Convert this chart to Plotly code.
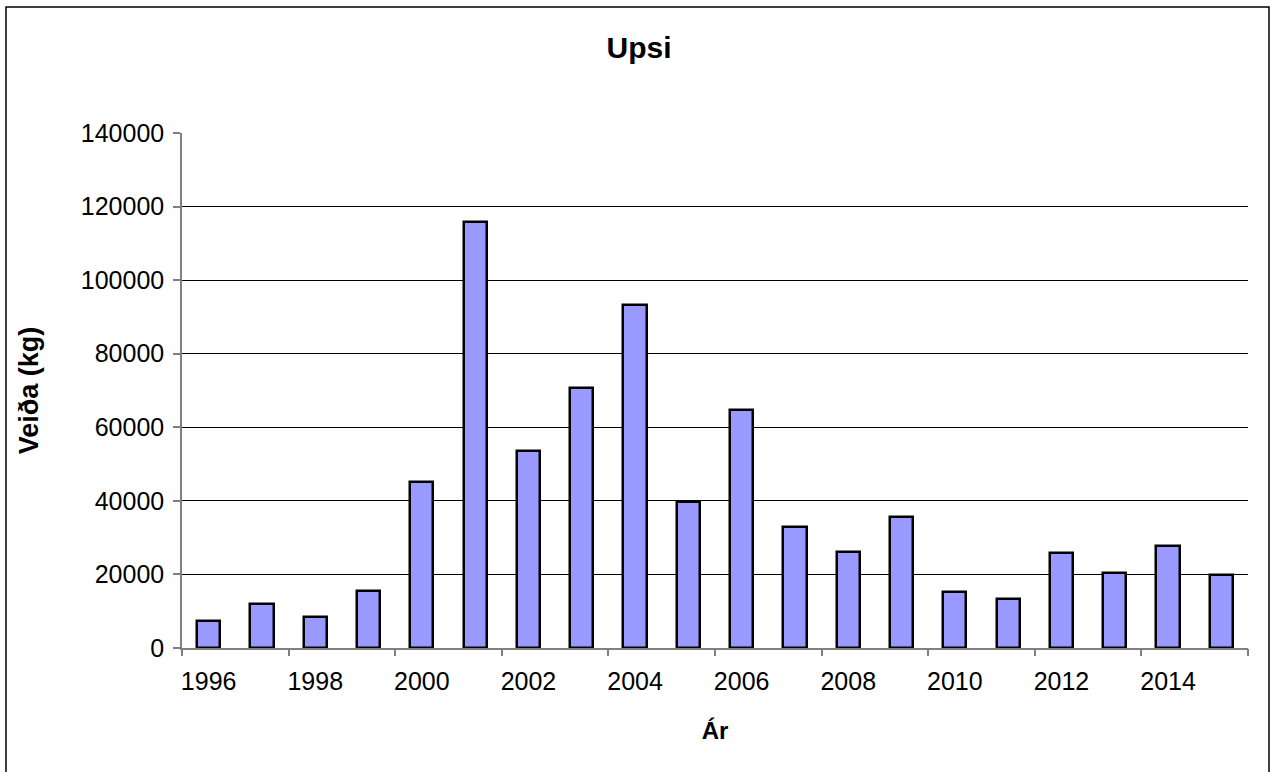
import plotly.graph_objects as go

years = list(range(1996, 2016))
catch_kg = [7300, 12000, 8400, 15500, 45100, 115800, 53500, 70700, 93200, 39700,
            64700, 32900, 26100, 35600, 15200, 13300, 25800, 20400, 27700, 19800]
label_years = [1996, 1998, 2000, 2002, 2004, 2006, 2008, 2010, 2012, 2014]
y_ticks = [0, 20000, 40000, 60000, 80000, 100000, 120000, 140000]

FONT = "Liberation Sans, Arial, sans-serif"

fig = go.Figure()
fig.add_trace(go.Bar(
    x=years, y=catch_kg, width=0.435,
    marker=dict(color="#9999FF", line=dict(color="#000000", width=2.5)),
    showlegend=False, hoverinfo="x+y",
))
# invisible trace to anchor the tick-mark axis
fig.add_trace(go.Scatter(x=[years[0]], y=[0], xaxis="x2", mode="markers",
                         marker=dict(opacity=0), showlegend=False, hoverinfo="skip"))

boundaries = [y - 0.5 for y in label_years] + [years[-1] + 0.5]

fig.update_layout(
    width=1278, height=772,
    margin=dict(l=182, r=30, t=133, b=124),
    paper_bgcolor="white", plot_bgcolor="white",
    font=dict(family=FONT, size=25, color="#000000"),
    title=dict(text="<b>Upsi</b>", x=0.5, xref="container", xanchor="center",
               y=1 - 47 / 772, yref="container", yanchor="middle",
               font=dict(size=30, family=FONT, color="#000")),
    bargap=0,
    xaxis=dict(range=[1995.5, 2015.5], tickvals=label_years, ticktext=[str(v) for v in label_years],
               ticks="", showgrid=False, zeroline=False, showline=True, linecolor="#808080", linewidth=1.5,
               tickfont=dict(size=25), ticklabelstandoff=10,
               title=dict(text="<b>Ár</b>", font=dict(size=24), standoff=28)),
    xaxis2=dict(overlaying="x", anchor="y", range=[1995.5, 2015.5], tickvals=boundaries,
                ticks="outside", ticklen=7, tickcolor="#808080", tickwidth=1.5,
                showticklabels=False, showgrid=False, zeroline=False, showline=False),
    yaxis=dict(range=[0, 140000], tickvals=y_ticks, ticktext=[str(v) for v in y_ticks],
               ticks="outside", ticklen=7, tickcolor="#808080", tickwidth=1.5,
               showgrid=True, gridcolor="#000000", gridwidth=1, zeroline=False,
               showline=True, linecolor="#808080", linewidth=1.5,
               tickfont=dict(size=25), ticklabelstandoff=4,
               title=dict(text="<b>Veiða (kg)</b>", font=dict(size=27), standoff=34)),
    shapes=[dict(type="rect", xref="paper", yref="paper",
                 x0=(6 - 182) / 1066, x1=(1269 - 182) / 1066,
                 y0=(648 - 776) / 515, y1=(648 - 7) / 515,
                 line=dict(color="#000000", width=1.5), fillcolor="rgba(0,0,0,0)", layer="below")],
)

fig.write_html("out.html", config={"displayModeBar": False},
               post_script="document.body.style.margin='0';document.body.style.overflow='hidden';")
